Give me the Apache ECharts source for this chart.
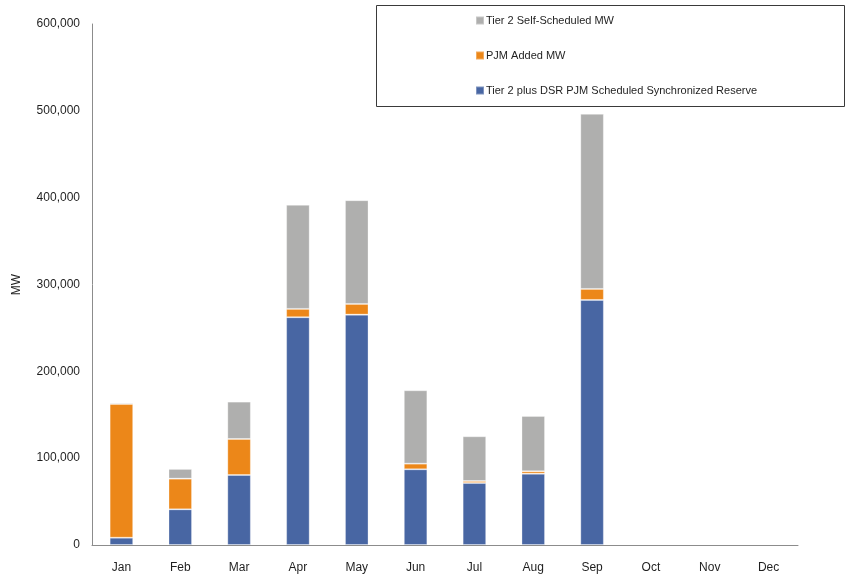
<!DOCTYPE html>
<html>
<head>
<meta charset="utf-8">
<script src="https://cdn.jsdelivr.net/npm/echarts@6/dist/echarts.min.js"></script>
<style>
  html, body { margin: 0; padding: 0; background: #fff; }
  #chart { width: 848px; height: 577px; }
</style>
</head>
<body>
<div id="chart"></div>
<script>
// Monthly synchronized reserve MW, stacked by source
const months = ['Jan', 'Feb', 'Mar', 'Apr', 'May', 'Jun', 'Jul', 'Aug', 'Sep', 'Oct', 'Nov', 'Dec'];
const tier2DsrScheduled = [8400, 41100, 80600, 262300, 265300, 87200, 71400, 82100, 282200, null, null, null];
const pjmAdded = [154000, 35300, 41500, 9600, 12300, 6500, 2300, 2800, 12700, null, null, null];
const tier2SelfScheduled = [1500, 11200, 43000, 119800, 119500, 84500, 51500, 63700, 201600, null, null, null];
const yTicks = [0, 100000, 200000, 300000, 400000, 500000, 600000];

const seriesNames = {
  dsr: 'Tier 2 plus DSR PJM Scheduled Synchronized Reserve',
  added: 'PJM Added MW',
  self: 'Tier 2 Self-Scheduled MW'
};

const font = '"Liberation Sans", Arial, sans-serif';
const textColor = '#1f1f1f';

const chart = echarts.init(document.getElementById('chart'), null, { renderer: 'canvas' });

function barSeries(name, data, color) {
  return {
    name: name,
    type: 'bar',
    stack: 'total',
    data: data,
    barWidth: '40%',
    itemStyle: { color: color, borderColor: 'rgba(255,255,255,0.3)', borderWidth: 1 },
    emphasis: { disabled: true }
  };
}

chart.setOption({
  animation: false,
  backgroundColor: '#ffffff',
  textStyle: { fontFamily: font },
  grid: { left: 92, right: 50, top: 24, bottom: 32, containLabel: false, outerBoundsMode: 'none' },
  graphic: [{
    // legend frame
    type: 'rect',
    shape: { x: 376.5, y: 5.5, width: 468, height: 101 },
    style: { fill: 'none', stroke: '#3a3a3a', lineWidth: 1 },
    silent: true,
    z: 0
  }],
  legend: {
    orient: 'vertical',
    left: 475,
    top: 15,
    padding: 0,
    itemWidth: 8,
    itemHeight: 8,
    itemGap: 24,
    icon: 'rect',
    textStyle: { fontFamily: font, fontSize: 11, color: textColor, padding: [0, 0, 0, -3] },
    data: [seriesNames.self, seriesNames.added, seriesNames.dsr]
  },
  xAxis: {
    type: 'category',
    data: months,
    axisLine: { lineStyle: { color: '#8c8c8c', width: 1 } },
    axisTick: { show: false },
    axisLabel: { fontFamily: font, fontSize: 12, color: textColor, margin: 17 }
  },
  yAxis: {
    type: 'value',
    min: yTicks[0],
    max: yTicks[yTicks.length - 1],
    interval: yTicks[1] - yTicks[0],
    name: 'MW',
    nameLocation: 'middle',
    nameGap: 69,
    nameRotate: 90,
    nameTextStyle: { fontFamily: font, fontSize: 12, color: textColor },
    axisLine: { show: true, lineStyle: { color: '#8c8c8c', width: 1 } },
    axisTick: { show: false },
    splitLine: { show: false },
    axisLabel: {
      fontFamily: font, fontSize: 12, color: textColor, margin: 12,
      formatter: v => v.toLocaleString('en-US')
    }
  },
  series: [
    barSeries(seriesNames.dsr, tier2DsrScheduled, '#4866A3'),
    barSeries(seriesNames.added, pjmAdded, '#EC8719'),
    barSeries(seriesNames.self, tier2SelfScheduled, '#AFAFAE')
  ]
});
</script>
</body>
</html>
